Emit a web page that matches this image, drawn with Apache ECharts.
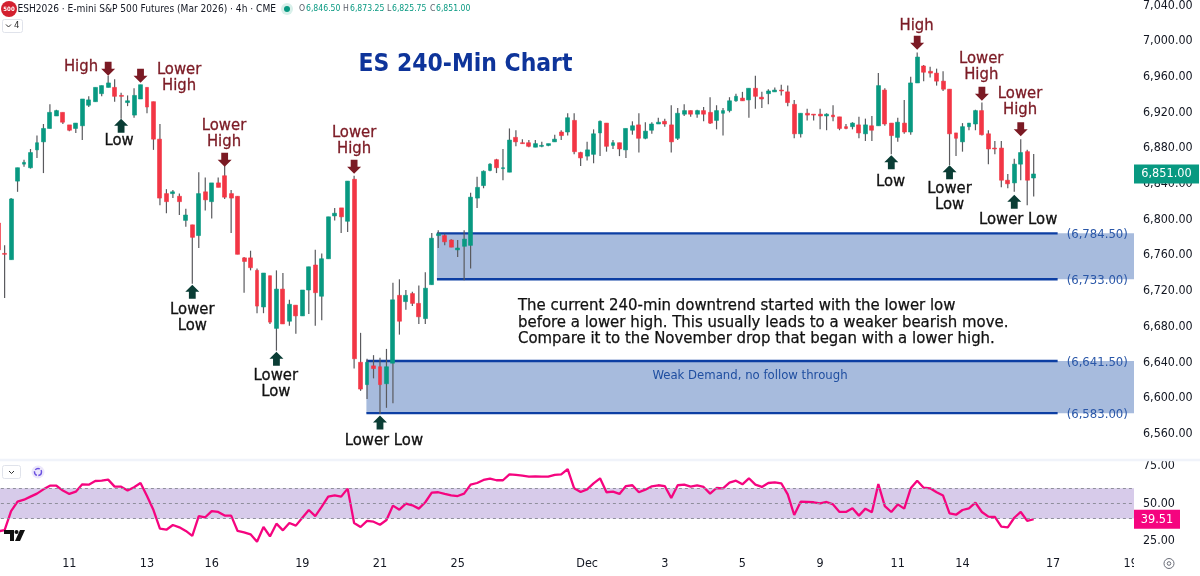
<!DOCTYPE html>
<html><head><meta charset="utf-8">
<style>html,body{margin:0;padding:0;background:#fff}#c{width:1200px;height:576px}</style>
<script src="https://cdn.jsdelivr.net/npm/echarts@6/dist/echarts.min.js"></script>
</head><body><div id="c"></div>
<script>
const opens=[6796,6762,6755,6843,6862,6858,6878,6887,6902,6916,6920,6906,6902,6905,6928,6932,6941,6948,6948,6939,6931,6917,6935,6948,6932,6890,6829,6829,6826,6799,6794,6782,6831,6820,6841,6849,6829,6826,6757,6757,6743,6702,6737,6678,6722,6686,6704,6692,6721,6749,6714,6756,6804,6813,6798,6845,6640,6615,6636,6635,6616,6639,6715,6708,6717,6706,6689,6727,6782,6782,6777,6766,6770,6771,6824,6838,6855,6867,6857,6853,6892,6886,6886,6881,6882,6883,6887,6898,6898,6911,6875,6871,6873,6897,6908,6883,6886,6878,6900,6906,6891,6900,6907,6910,6906,6891,6918,6922,6918,6922,6920,6911,6919,6922,6933,6936,6934,6947,6937,6941,6943,6945,6943,6929,6896,6919,6918,6918,6916,6917,6915,6904,6904,6906,6896,6905,6905,6945,6908,6892,6908,6898,6953,6972,6966,6964,6955,6946,6897,6887,6904,6907,6922,6896,6880,6880,6844,6841,6862,6876,6846.5];
const highs=[6800,6771,6824,6858,6867,6879,6894,6907,6929,6923,6920,6906,6908,6935,6938,6948,6950,6961,6957,6942,6939,6947,6951,6948,6932,6907,6834,6833,6829,6812,6794,6853,6847,6841,6847,6860,6833,6826,6758,6765,6745,6740,6737,6743,6740,6710,6704,6721,6747,6766,6762,6803,6813,6813,6843,6849,6673,6644,6648,6645,6655,6729,6733,6721,6719,6726,6741,6785,6788,6784,6778,6777,6788,6830,6848,6855,6863,6868,6879,6902,6900,6890,6889,6889,6887,6885,6895,6900,6919,6919,6876,6887,6901,6911,6908,6889,6886,6902,6910,6919,6909,6909,6914,6913,6928,6925,6929,6922,6923,6926,6937,6928,6925,6937,6941,6943,6947,6961,6943,6946,6948,6951,6950,6934,6919,6924,6918,6924,6919,6928,6915,6907,6909,6915,6913,6916,6964,6947,6908,6914,6934,6960,6987,6973,6971,6969,6966,6946,6897,6908,6908,6923,6931,6900,6888,6888,6851,6868,6890,6878,6873.25];
const lows=[6762,6712,6755,6831,6859,6857,6869,6852,6902,6916,6907,6899,6897,6889,6926,6932,6938,6948,6932,6913,6927,6914,6935,6919,6878,6816,6807,6824,6805,6792,6728,6768,6810,6801,6836,6823,6785,6761,6718,6743,6695,6695,6683,6653,6683,6681,6672,6692,6694,6681,6687,6756,6799,6785,6786,6633,6608,6599,6622,6582,6589,6594,6671,6699,6703,6683,6683,6727,6768,6771,6769,6758,6732,6745,6813,6835,6854,6852,6844,6853,6882,6885,6881,6881,6881,6882,6887,6889,6894,6873,6860,6866,6863,6871,6876,6879,6871,6869,6895,6875,6890,6896,6907,6904,6875,6889,6916,6915,6914,6910,6907,6901,6894,6920,6932,6933,6914,6924,6925,6929,6943,6939,6927,6891,6892,6911,6911,6901,6900,6910,6900,6901,6901,6891,6888,6888,6905,6905,6873,6887,6896,6895,6953,6955,6959,6950,6944,6861,6871,6876,6900,6900,6894,6862,6873,6836,6835,6831,6844,6816,6825.75];
const closes=[6766,6761,6823,6858,6864,6875,6886,6902,6920,6922,6909,6900,6908,6935,6934,6948,6950,6953,6938,6938,6933,6939,6951,6926,6890,6824,6820,6831,6820,6805,6780,6829,6822,6841,6836,6825,6824,6761,6753,6746,6703,6740,6685,6722,6683,6705,6692,6721,6747,6718,6756,6803,6807,6803,6843,6644,6610,6640,6633,6615,6635,6710,6686,6715,6706,6691,6723,6779,6784,6775,6769,6768,6778,6825,6836,6854,6862,6858,6858,6889,6887,6885,6882,6885,6883,6885,6890,6894,6914,6876,6869,6878,6896,6910,6882,6886,6879,6902,6905,6891,6899,6907,6909,6907,6887,6919,6922,6918,6922,6918,6908,6922,6922,6933,6938,6933,6947,6938,6935,6944,6945,6944,6931,6896,6919,6917,6917,6916,6918,6915,6902,6902,6908,6897,6906,6900,6950,6907,6894,6909,6898,6953,6982,6965,6964,6955,6946,6896,6891,6904,6908,6922,6895,6879,6879,6844,6840,6862,6875,6844,6851];
const rsiValues=[31.5,32.4,44.9,51.1,52.4,54.4,56.4,59.2,61.6,61.6,58.4,56.2,57.7,62.5,62.3,64.7,64.9,65.6,61.0,61.0,58.4,60.6,63.4,54.8,45.6,33.3,32.6,35.7,34.2,31.8,28.5,41.6,40.8,44.9,44.3,41.9,41.9,31.8,30.9,29.6,24.7,34.4,28.2,36.6,32.2,37.0,35.3,40.5,45.6,41.6,47.8,54.4,55.3,54.4,59.7,37.0,34.4,38.4,37.9,35.9,39.0,48.5,45.8,49.8,48.7,46.5,50.7,57.0,57.3,56.2,55.3,54.8,56.4,62.3,63.4,65.4,66.3,65.2,65.2,69.1,68.7,68.2,67.6,67.8,67.6,67.6,68.7,69.1,72.6,59.9,57.5,59.2,63.2,66.5,57.3,57.7,56.2,61.4,61.9,57.3,59.0,61.2,61.9,61.4,53.5,61.9,62.3,61.0,61.9,60.8,56.4,60.1,59.9,63.6,64.9,62.5,66.5,62.3,60.8,63.4,63.8,63.2,55.9,42.3,51.1,50.9,50.7,50.0,50.9,49.3,44.3,44.3,46.7,41.9,46.5,44.1,62.7,48.2,44.3,49.3,46.5,59.9,64.9,60.3,59.9,57.3,55.1,43.4,42.5,45.6,46.7,50.4,44.3,41.2,41.0,34.6,34.2,40.5,44.3,38.4,39.51];
const barCount=176;
const dateTickBars=[11,23,33,47,59,71,91,103,115,127,139,149,163,175];
const dateTickLabels=['11','13','16','19','21','25','Dec','3','5','9','11','14','17','19'];
const lastPrice=6851.00, lastRsi=39.51;
const zoneLows=[6733,6583], zoneHighs=[6784.5,6641.5], zoneStartBars=[67.8,56.9], zoneLineEndBars=[163.7,163.7];
const downArrowBars=[17,22,35,55,142,152,158], downArrowPrices=[6969,6961,6867,6859,6998,6941,6901];
const upArrowBars=[19,30,43,59,138,147,157], upArrowPrices=[6905,6719,6644,6572.5,6864,6853,6820];
const highTexts=['High','Lower\nHigh','Lower\nHigh','Lower\nHigh','High','Lower\nHigh','Lower\nHigh'];
const highTextBars=[12.8,27.96,34.9,55,141.9,151.9,157.9], highTextPrices=[6971,6959,6896,6888,7017,6971,6932];
const lowTexts=['Low','Lower\nLow','Lower\nLow','Lower Low','Low','Lower\nLow','Lower Low'];
const lowTextBars=[18.7,30,42.9,59.6,137.9,147,157.6], lowTextPrices=[6888,6690,6616,6552,6842,6825,6800];

const UP='#089981',DOWN='#f23645',FONT='"DejaVu Sans Condensed","DejaVu Sans",sans-serif';
const fmt=(v,d)=>v.toLocaleString('en-US',{minimumFractionDigits:d,maximumFractionDigits:d});
const cats=[];for(let i=0;i<barCount;i++){const k=dateTickBars.indexOf(i);cats.push(k>=0?dateTickLabels[k]:' '+i);}
const body=opens.map((o,i)=>[o,closes[i],Math.min(o,closes[i]),Math.max(o,closes[i])]);
const wicks=opens.map((o,i)=>[i,lows[i],highs[i]]);
const chart=echarts.init(document.getElementById('c'));
const txt=(x,y,text,size,fill,extra)=>({type:'text',x,y,silent:true,z:50,style:Object.assign({text,fontFamily:FONT,fontSize:size,fill,verticalAlign:'middle'},extra||{})});
function arrow(dir,color){return function(p,api){
  const c=api.coord([api.value(0),api.value(1)]),x=c[0],y=c[1],d=dir;
  return {type:'polygon',shape:{points:[[x-3.4,y-7*d],[x+3.4,y-7*d],[x+3.4,y],[x+7,y],[x,y+7*d],[x-7,y],[x-3.4,y]]},style:{fill:color}};
};}
const labelRender=(texts,color)=>function(p,api){const c=api.coord([api.value(0),api.value(1)]);
  return {type:'text',style:{x:c[0],y:c[1],text:texts[p.dataIndex],align:'center',verticalAlign:'middle',fontFamily:FONT,fontSize:16.5,lineHeight:16,fill:color,stroke:color,lineWidth:0.3}};};
chart.setOption({
 animation:false,backgroundColor:'#fff',
 grid:[{left:-5.1,top:1,width:1139.1,height:468.4,outerBoundsMode:'none'},{left:-5.1,top:457.8,width:1139.1,height:121.4,outerBoundsMode:'none'}],
 xAxis:[
  {type:'category',gridIndex:0,data:cats,show:false},
  {type:'category',gridIndex:1,data:cats,offset:-26,axisLine:{show:false},axisTick:{show:false},splitLine:{show:false},
   axisLabel:{interval:0,margin:4,fontFamily:FONT,fontSize:12.5,color:'#131722',hideOverlap:false,formatter:v=>/^ /.test(v)?'':v}},
  {type:'value',gridIndex:0,show:false,min:-0.5,max:barCount-0.5}
 ],
 yAxis:[
  {type:'value',gridIndex:0,position:'right',min:6520,max:7044.8,interval:40,axisLine:{show:false},axisTick:{show:false},splitLine:{show:false},
   axisLabel:{showMinLabel:false,showMaxLabel:false,margin:9,align:'left',fontFamily:FONT,fontSize:12.4,color:'#131722',formatter:v=>fmt(v,2)}},
  {type:'value',gridIndex:1,position:'right',min:0,max:80,interval:25,axisLine:{show:false},axisTick:{show:false},splitLine:{show:false},
   axisLabel:{showMinLabel:false,showMaxLabel:false,margin:9,align:'left',fontFamily:FONT,fontSize:12.4,color:'#131722',formatter:v=>fmt(v,2)}}
 ],
 series:[
  {type:'custom',name:'zones',xAxisIndex:2,yAxisIndex:0,z:1,
   data:zoneLows.map((l,i)=>[zoneStartBars[i],zoneLineEndBars[i],l,zoneHighs[i]]),encode:{x:[0,1],y:[2,3]},
   renderItem(p,api){
    const x0=api.coord([api.value(0),api.value(3)])[0],yt=api.coord([0,api.value(3)])[1],yb=api.coord([0,api.value(2)])[1];
    const xe=api.coord([api.value(1),0])[0],xr=p.coordSys.x+p.coordSys.width;
    const line=(y)=>({type:'line',shape:{x1:x0,y1:y,x2:xe,y2:y},style:{stroke:'#0c3ea3',lineWidth:2.4}});
    const lab=(y,v)=>({type:'text',style:{x:xe+9,y:y+1.5,text:'('+fmt(v,2)+')',fontFamily:FONT,fontSize:13,fill:'#2a57a8',verticalAlign:'middle'}});
    return {type:'group',children:[
     {type:'rect',shape:{x:x0,y:yt,width:xr-x0,height:yb-yt},style:{fill:'#a7bbdd'}},
     line(yt),line(yb),lab(yt,api.value(3)),lab(yb,api.value(2))]};
   }},
  {type:'custom',name:'wicks',xAxisIndex:0,yAxisIndex:0,z:2,data:wicks,encode:{x:0,y:[1,2]},
   renderItem(p,api){
    const a=api.coord([api.value(0),api.value(1)]),b=api.coord([api.value(0),api.value(2)]);
    return {type:'line',shape:{x1:a[0],y1:a[1],x2:b[0],y2:b[1]},style:{stroke:'#5a5a5e',lineWidth:1.2}};
   }},
  {type:'candlestick',name:'ESH2026',xAxisIndex:0,yAxisIndex:0,z:3,data:body,barWidth:4.4,
   itemStyle:{color:UP,color0:DOWN,borderColor:UP,borderColor0:DOWN,borderWidth:0.6}},
  {type:'custom',name:'down arrows',xAxisIndex:2,yAxisIndex:0,z:5,data:downArrowBars.map((b,i)=>[b,downArrowPrices[i]]),encode:{x:0,y:1},renderItem:arrow(1,'#7b1a24')},
  {type:'custom',name:'up arrows',xAxisIndex:2,yAxisIndex:0,z:5,data:upArrowBars.map((b,i)=>[b,upArrowPrices[i]]),encode:{x:0,y:1},renderItem:arrow(-1,'#0a3d35')},
  {type:'custom',name:'high labels',xAxisIndex:2,yAxisIndex:0,z:6,data:highTexts.map((t,i)=>[highTextBars[i],highTextPrices[i],t]),encode:{x:0,y:1},renderItem:labelRender(highTexts,'#7b1a24')},
  {type:'custom',name:'low labels',xAxisIndex:2,yAxisIndex:0,z:6,data:lowTexts.map((t,i)=>[lowTextBars[i],lowTextPrices[i],t]),encode:{x:0,y:1},renderItem:labelRender(lowTexts,'#111')},
  {type:'custom',name:'price tag',xAxisIndex:2,yAxisIndex:0,z:20,data:[[0,lastPrice]],encode:{x:0,y:1},
   renderItem(p,api){const y=api.coord([0,api.value(1)])[1],x=p.coordSys.x+p.coordSys.width;return {type:'group',children:[
    {type:'rect',shape:{x:x,y:y-9.5,width:65,height:19},style:{fill:UP}},
    {type:'text',style:{x:x+32.5,y:y,text:fmt(api.value(1),2),align:'center',verticalAlign:'middle',fontFamily:FONT,fontSize:12.6,fill:'#fff'}}]};}},
  {type:'line',name:'RSI',xAxisIndex:1,yAxisIndex:1,z:4,data:rsiValues,showSymbol:false,symbol:'none',lineStyle:{color:'#f5047f',width:2.3},
   markArea:{silent:true,itemStyle:{color:'#d7cbea'},data:[[{yAxis:40},{yAxis:60}]]},
   markLine:{silent:true,symbol:'none',label:{show:false},lineStyle:{color:'#8f8f9c',type:[3,3],width:1},data:[{yAxis:40},{yAxis:50},{yAxis:60}]}},
  {type:'custom',name:'rsi tag',xAxisIndex:1,yAxisIndex:1,z:20,data:[[0,lastRsi]],encode:{x:0,y:1},
   renderItem(p,api){const y=api.coord([0,api.value(1)])[1],x=p.coordSys.x+p.coordSys.width;return {type:'group',children:[
    {type:'rect',shape:{x:x,y:y-9.5,width:46,height:19},style:{fill:'#f5047f'}},
    {type:'text',style:{x:x+23,y:y,text:fmt(api.value(1),2),align:'center',verticalAlign:'middle',fontFamily:FONT,fontSize:12.6,fill:'#fff'}}]};}}
 ],
 graphic:[
  {type:'rect',z:40,silent:true,shape:{x:0,y:458.8,width:1200,height:2.4},style:{fill:'#f0f3fa'}},
  {type:'rect',z:40,silent:true,shape:{x:1134,y:553,width:66,height:23},style:{fill:'#fff'}},
  {type:'circle',z:50,silent:true,shape:{cx:9,cy:9,r:8},style:{fill:'#d3202f'}},
  txt(9,9.5,'500',6,'#fff',{align:'center',fontWeight:'bold'}),
  txt(17.5,9,'ESH2026 · E-mini S&P 500 Futures (Mar 2026) · 4h · CME',10.1,'#131722'),
  {type:'circle',z:50,silent:true,shape:{cx:287,cy:9,r:6},style:{fill:'#d8f0ea'}},
  {type:'circle',z:51,silent:true,shape:{cx:287,cy:9,r:3},style:{fill:UP}},
  txt(299,9,'O',8.6,'#5d606b'),txt(306,9,'6,846.50',8.6,UP),
  txt(343,9,'H',8.6,'#5d606b'),txt(350,9,'6,873.25',8.6,UP),
  txt(387,9,'L',8.6,'#5d606b'),txt(392,9,'6,825.75',8.6,UP),
  txt(430,9,'C',8.6,'#5d606b'),txt(436,9,'6,851.00',8.6,UP),
  {type:'rect',z:50,silent:true,shape:{x:2.5,y:19.5,width:20,height:13,r:2},style:{fill:'#fff',stroke:'#e0e3eb'}},
  {type:'polyline',z:51,silent:true,shape:{points:[[6,24.5],[8.5,27],[11,24.5]]},style:{stroke:'#333',fill:null,lineWidth:1}},
  txt(14,26,'4',9.5,'#333'),
  {type:'rect',z:50,silent:true,shape:{x:2.5,y:465.5,width:18,height:13,r:2},style:{fill:'#fff',stroke:'#e0e3eb'}},
  {type:'polyline',z:51,silent:true,shape:{points:[[9,471],[11.5,473.5],[14,471]]},style:{stroke:'#333',fill:null,lineWidth:1}},
  {type:'circle',z:50,silent:true,shape:{cx:38,cy:472,r:6.5},style:{fill:'#ece7fb'}},
  {type:'circle',z:51,silent:true,shape:{cx:38,cy:472,r:3.5},style:{fill:null,stroke:'#6a50e0',lineWidth:1.4,lineDash:[5,1.5]}},
  {type:'polygon',z:51,silent:true,shape:{points:[[4,530],[14,530],[14,541],[10,541],[10,534],[4,534]]},style:{fill:'#111'}},
  {type:'circle',z:51,silent:true,shape:{cx:16.5,cy:532,r:2},style:{fill:'#111'}},
  {type:'polygon',z:51,silent:true,shape:{points:[[20,530],[25,530],[20,541],[15,541]]},style:{fill:'#111'}},
  {type:'circle',z:51,silent:true,shape:{cx:1169,cy:563.5,r:5},style:{fill:null,stroke:'#6a6d78',lineWidth:1}},
  {type:'circle',z:51,silent:true,shape:{cx:1169,cy:563.5,r:1.8},style:{fill:null,stroke:'#6a6d78',lineWidth:1}},
  txt(465.5,65,'ES 240-Min Chart',24.4,'#0e349a',{align:'center',fontWeight:'bold'}),
  txt(518,306,'The current 240-min downtrend started with the lower low',16.6,'#111',{stroke:'#111',lineWidth:0.25}),
  txt(518,322.5,'before a lower high. This usually leads to a weaker bearish move.',16.6,'#111',{stroke:'#111',lineWidth:0.25}),
  txt(518,339,'Compare it to the November drop that began with a lower high.',16.6,'#111',{stroke:'#111',lineWidth:0.25}),
  txt(750,376,'Weak Demand, no follow through',13,'#1f4ea0',{align:'center'})
 ]
});
</script></body></html>
